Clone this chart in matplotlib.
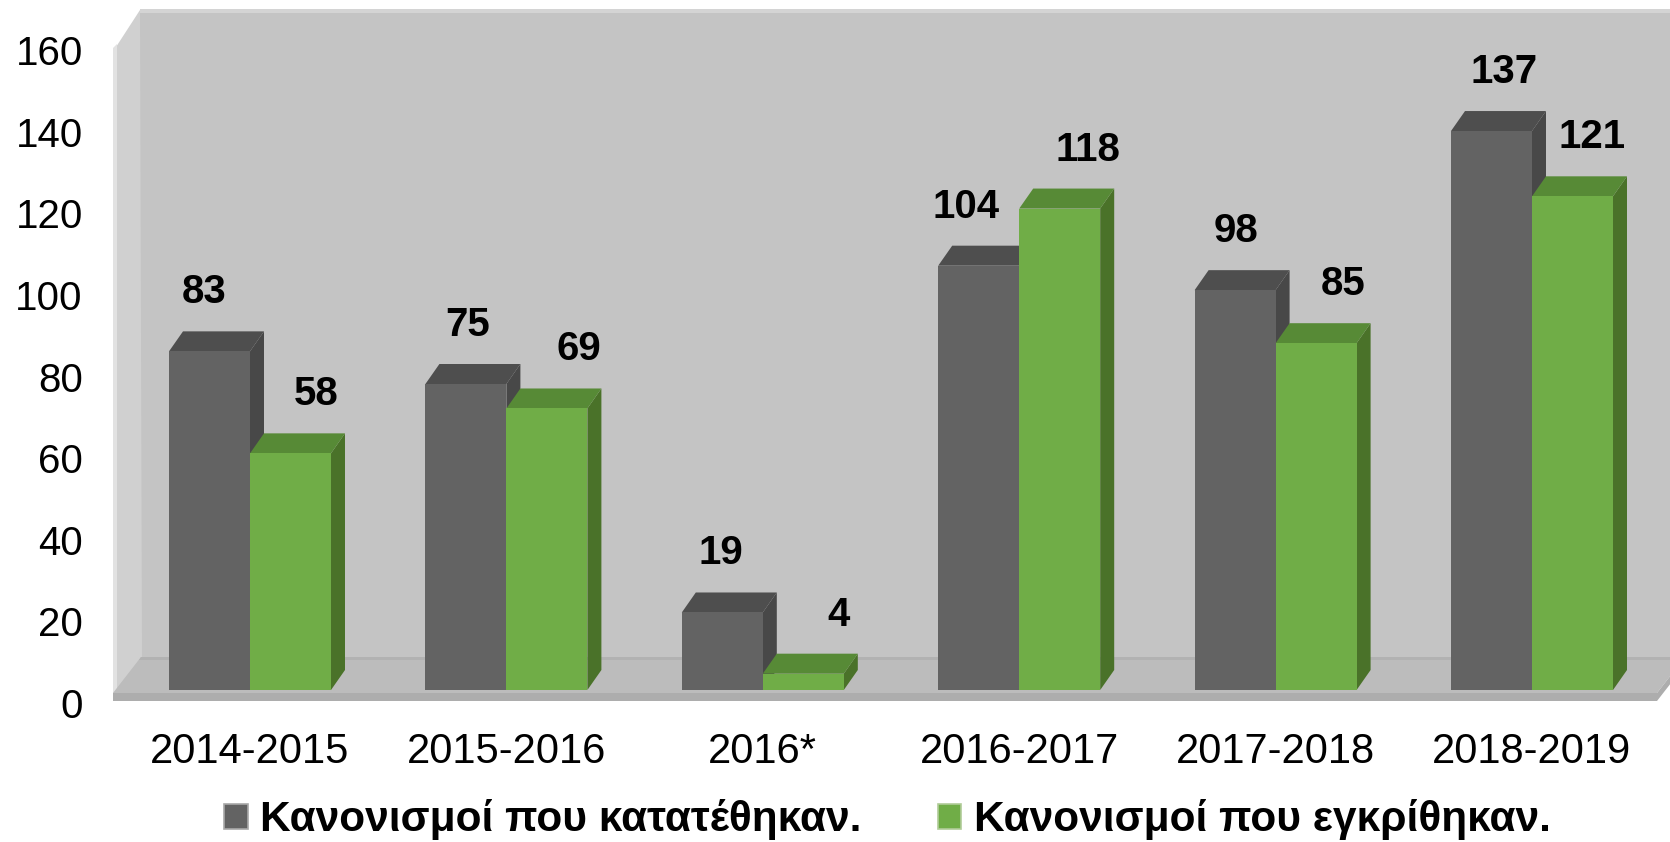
import matplotlib
matplotlib.use('Agg')
import matplotlib.pyplot as plt
from matplotlib.patches import Polygon, Patch

# ---------------- data ----------------
categories = ['2014-2015', '2015-2016', '2016*', '2016-2017', '2017-2018', '2018-2019']
submitted = [83, 75, 19, 104, 98, 137]
approved = [58, 69, 4, 118, 85, 121]
series_names = ['Κανονισμοί που κατατέθηκαν.', 'Κανονισμοί που εγκρίθηκαν.']
yticks = [0, 20, 40, 60, 80, 100, 120, 140, 160]

# ---------------- styling ----------------
FONT = 'Liberation Sans'
DARK = dict(front='#636363', top='#4e4e4e', side='#484848')
GREEN = dict(front='#70ad47', top='#578a36', side='#4a7229')
WALL = '#c4c4c4'
WALL_SIDE = '#d0d0d0'
FLOOR = '#bcbcbc'
FLOOR_FRONT = '#adadad'
# horizontal label nudges (pixels) relative to the bar's front centre
NUDGE_DARK = [-5, 2, -1, -13, 1, 13]
NUDGE_GREEN = [26, 32, 35, 28, 27, 20]

W, H = 1670, 842
fig = plt.figure(figsize=(W / 100, H / 100), dpi=100)

AX_L, AX_B = 105, 703          # pixel position of axes left edge / value 0
PX_PER_UNIT = 4.08
PX_PER_CAT = 256.4
CAT0_PX = 250

ax = fig.add_axes([AX_L / W, (H - AX_B) / H, 1 - AX_L / W, AX_B / H])
ax.set_xlim((AX_L - CAT0_PX) / PX_PER_CAT, (W - CAT0_PX) / PX_PER_CAT)
ax.set_ylim(0, AX_B / PX_PER_UNIT)
ax.patch.set_visible(False)
for s in ax.spines.values():
    s.set_visible(False)


def P(px, py):
    """pixel -> data for decorative wall/floor shapes"""
    return ((px - CAT0_PX) / PX_PER_CAT, (AX_B - py) / PX_PER_UNIT)


def poly(pts, color, z):
    ax.add_patch(Polygon([P(*p) for p in pts], closed=True, fc=color, ec='none',
                         zorder=z, clip_on=False))


# back wall + left wall + floor
poly([(140, 10), (W, 10), (W, 660), (140, 660)], WALL, 0)
poly([(140, 9), (W, 9), (W, 13), (140, 13)], '#d4d4d4', 0.5)
poly([(116, 47), (140, 10), (142, 660), (113, 700)], WALL_SIDE, 0.4)
poly([(113, 48), (117, 44), (117, 700), (113, 700)], '#e2e2e2', 0.45)
poly([(113, 693), (1657, 693), (1685, 657), (141, 657)], FLOOR, 1)
poly([(141, 657), (1685, 657), (1685, 660), (139, 660)], '#b2b2b2', 1.05)
poly([(113, 693), (1657, 693), (1657, 701), (113, 701)], FLOOR_FRONT, 1.1)
poly([(1657, 693), (1685, 657), (1685, 665), (1657, 701)], FLOOR_FRONT, 1.1)

# bars (pseudo 3-D)
bw = 81 / PX_PER_CAT
base = (AX_B - 690) / PX_PER_UNIT
ddx = 14 / PX_PER_CAT
ddy = 20 / PX_PER_UNIT


def bar3d(x0, v, c, z):
    x1 = x0 + bw
    top = base + v
    ax.add_patch(Polygon([(x1, base), (x1, top), (x1 + ddx, top + ddy), (x1 + ddx, base + ddy)],
                         fc=c['side'], ec='none', zorder=z))
    ax.add_patch(Polygon([(x0, top), (x1, top), (x1 + ddx, top + ddy), (x0 + ddx, top + ddy)],
                         fc=c['top'], ec='none', zorder=z))
    ax.add_patch(Polygon([(x0, base), (x1, base), (x1, top), (x0, top)],
                         fc=c['front'], ec='none', zorder=z + 0.1))


for i, (a, b) in enumerate(zip(submitted, approved)):
    bar3d(i - bw, a, DARK, 2 + i * 0.01)
    bar3d(i, b, GREEN, 2.5 + i * 0.01)

lab_off = 59 / PX_PER_UNIT
for i, (a, b) in enumerate(zip(submitted, approved)):
    ax.text(i - bw / 2 + NUDGE_DARK[i] / PX_PER_CAT, base + a + lab_off, str(a),
            ha='center', va='center', fontsize=29, fontweight='bold', family=FONT, zorder=6)
    ax.text(i + bw / 2 + NUDGE_GREEN[i] / PX_PER_CAT, base + b + lab_off, str(b),
            ha='center', va='center', fontsize=29, fontweight='bold', family=FONT, zorder=6)

# axes ticks
ax.set_yticks(yticks)
ax.set_yticklabels([str(t) for t in yticks], fontsize=29, family=FONT)
ax.set_xticks(range(len(categories)))
ax.set_xticklabels(categories, fontsize=30, family=FONT)
ax.tick_params(axis='y', length=0, pad=16)
ax.tick_params(axis='x', length=0, pad=21)

# legend
handles = [Patch(fc=DARK['front'], ec='#a8a8a8', lw=1.2),
           Patch(fc=GREEN['front'], ec='#b0cc98', lw=1.2)]
fig.legend(handles, series_names, loc='center', bbox_to_anchor=(887.5 / W, (H - 820) / H),
           ncol=2, frameon=False, prop=dict(family=FONT, weight='bold', size=30.5),
           handlelength=0.55, handleheight=0.55, handletextpad=0.3, columnspacing=1.8,
           borderpad=0.2)

fig.savefig('out.png', dpi=100, facecolor='white')
